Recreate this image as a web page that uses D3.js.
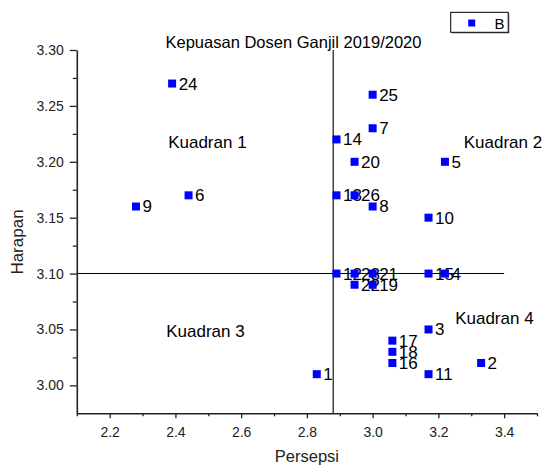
<!DOCTYPE html>
<html>
<head>
<meta charset="utf-8">
<script src="https://cdn.jsdelivr.net/npm/d3@7"></script>
<style>
  html, body { margin: 0; padding: 0; background: #fff; }
  svg { display: block; font-family: "Liberation Sans", Arial, sans-serif; }
</style>
</head>
<body>
<svg id="chart" width="545" height="469"></svg>
<script>
// ---- data ----
const labels = ["1","2","3","4","5","6","7","8","9","10","11","12","13","14","15","16","17","18","19","20","21","22","23","24","25","26"];
const persepsi = [2.83, 3.33, 3.17, 3.22, 3.22, 2.44, 3.00, 3.00, 2.28, 3.17, 3.17, 2.89, 2.89, 2.89, 3.17, 3.06, 3.06, 3.06, 3.00, 2.945, 3.00, 2.945, 2.945, 2.39, 3.00, 2.945];
const harapan  = [3.01, 3.02, 3.05, 3.10, 3.20, 3.17, 3.23, 3.16, 3.16, 3.15, 3.01, 3.10, 3.17, 3.22, 3.10, 3.02, 3.04, 3.03, 3.09, 3.20, 3.10, 3.09, 3.10, 3.27, 3.26, 3.17];
const xTicks = [2.2, 2.4, 2.6, 2.8, 3.0, 3.2, 3.4];
const xMinor = [2.1, 2.3, 2.5, 2.7, 2.9, 3.1, 3.3, 3.5];
const yTicks = [3.00, 3.05, 3.10, 3.15, 3.20, 3.25, 3.30];
const yMinor = [3.025, 3.075, 3.125, 3.175, 3.225, 3.275];
const meanX = 2.88;
const meanY = 3.10;
const hLineEnd = 3.40;
const quadrants = [
  {text: "Kuadran 1", x: 2.378, y: 3.212},
  {text: "Kuadran 2", x: 3.277, y: 3.212},
  {text: "Kuadran 3", x: 2.372, y: 3.043},
  {text: "Kuadran 4", x: 3.251, y: 3.055}
];
const title = "Kepuasan Dosen Ganjil 2019/2020";
const xTitle = "Persepsi";
const yTitle = "Harapan";
const legendName = "B";

const points = labels.map((l, i) => ({label: l, x: persepsi[i], y: harapan[i]}));

// ---- scales ----
const svg = d3.select("#chart");
const x = d3.scaleLinear().domain([2.1, 3.5]).range([76.8, 537]);
const y = d3.scaleLinear().domain([2.975, 3.30]).range([413.3, 50]);

const axisColor = "#222";

// ---- axes ----
const xAxis = svg.append("g").attr("transform", `translate(0,${y(2.975)})`)
  .call(d3.axisBottom(x).tickValues(xTicks).tickFormat(d3.format(".1f")).tickSizeInner(5).tickSizeOuter(0).tickPadding(9));
const xMinorG = svg.append("g").attr("transform", `translate(0,${y(2.975)})`)
  .call(d3.axisBottom(x).tickValues(xMinor).tickFormat("").tickSizeInner(3).tickSizeOuter(0));
xMinorG.select(".domain").remove();

const yAxis = svg.append("g").attr("transform", `translate(${x(2.1)},0)`)
  .call(d3.axisLeft(y).tickValues(yTicks).tickFormat(d3.format(".2f")).tickSizeInner(7).tickSizeOuter(0).tickPadding(6));
const yMinorG = svg.append("g").attr("transform", `translate(${x(2.1)},0)`)
  .call(d3.axisLeft(y).tickValues(yMinor).tickFormat("").tickSizeInner(4).tickSizeOuter(0));
yMinorG.select(".domain").remove();

svg.selectAll(".domain").attr("stroke", axisColor).attr("stroke-width", 1.6);
svg.selectAll(".tick line").attr("stroke", axisColor).attr("stroke-width", 1.3);
svg.selectAll(".tick text").attr("fill", "#222").style("font-size", "14px")
  .style("font-family", '"Liberation Sans", Arial, sans-serif');

// ---- reference lines ----
svg.append("line")
  .attr("x1", x(meanX)).attr("x2", x(meanX))
  .attr("y1", y(3.30)).attr("y2", y(2.975))
  .attr("stroke", "#000").attr("stroke-width", 1.1);
svg.append("line")
  .attr("x1", x(2.1)).attr("x2", x(hLineEnd))
  .attr("y1", y(meanY)).attr("y2", y(meanY))
  .attr("stroke", "#000").attr("stroke-width", 1.1);

// ---- point labels (under markers) ----
svg.append("g").selectAll("text").data(points).join("text")
  .attr("x", d => x(d.x) + 6.5)
  .attr("y", d => y(d.y) + 6)
  .attr("font-size", 17)
  .attr("fill", "#000")
  .text(d => d.label);

// ---- markers ----
const ms = 8;
svg.append("g").selectAll("rect").data(points).join("rect")
  .attr("x", d => x(d.x) - ms / 2)
  .attr("y", d => y(d.y) - ms / 2)
  .attr("width", ms).attr("height", ms)
  .attr("fill", "#0000ff");

// ---- quadrant labels ----
svg.append("g").selectAll("text").data(quadrants).join("text")
  .attr("x", d => x(d.x))
  .attr("y", d => y(d.y))
  .attr("font-size", 17)
  .attr("fill", "#000")
  .text(d => d.text);

// ---- title ----
svg.append("text")
  .attr("x", 293.5).attr("y", 48)
  .attr("text-anchor", "middle")
  .attr("font-size", 16.5)
  .attr("fill", "#000")
  .text(title);

// ---- axis titles ----
svg.append("text")
  .attr("x", (x(2.1) + x(3.5)) / 2).attr("y", 462)
  .attr("text-anchor", "middle")
  .attr("font-size", 16.5)
  .attr("fill", "#222")
  .text(xTitle);
svg.append("text")
  .attr("transform", `translate(23,242) rotate(-90)`)
  .attr("text-anchor", "middle")
  .attr("font-size", 17)
  .attr("fill", "#222")
  .text(yTitle);

// ---- legend ----
const lg = svg.append("g");
lg.append("rect").attr("x", 452).attr("y", 13.5).attr("width", 57.5).attr("height", 20)
  .attr("fill", "#999");
lg.append("rect").attr("x", 450.7).attr("y", 12.3).attr("width", 57.5).attr("height", 20)
  .attr("fill", "#fff").attr("stroke", "#000").attr("stroke-width", 1);
lg.append("rect").attr("x", 471.7 - 3.5).attr("y", 23 - 3.5).attr("width", 7).attr("height", 7)
  .attr("fill", "#0000ff");
lg.append("text").attr("x", 494.5).attr("y", 28.8).attr("font-size", 15).attr("fill", "#000")
  .text(legendName);
</script>
</body>
</html>
